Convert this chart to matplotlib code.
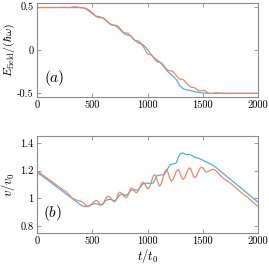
import matplotlib
matplotlib.use("Agg")
import matplotlib.pyplot as plt

# ---- data ----
t_E_blue = [0, 100, 200, 300, 400, 420, 450, 470, 500, 530, 560, 590, 620, 650, 680, 710, 740, 770,
            800, 830, 850, 880, 910, 940, 960, 990, 1020, 1050, 1080, 1110, 1140, 1170, 1200, 1230,
            1260, 1290, 1320, 1350, 1380, 1410, 1440, 1470, 1500, 1550, 1700, 2000]
E_blue = [0.49, 0.49, 0.49, 0.49, 0.488, 0.485, 0.47, 0.45, 0.42, 0.39, 0.385, 0.375, 0.345, 0.31,
          0.29, 0.28, 0.25, 0.21, 0.18, 0.17, 0.16, 0.12, 0.085, 0.07, 0.06, 0.02, -0.03, -0.08,
          -0.11, -0.14, -0.18, -0.23, -0.27, -0.30, -0.34, -0.41, -0.445, -0.46, -0.465, -0.475,
          -0.485, -0.49, -0.495, -0.5, -0.5, -0.5]

t_E_orange = [0, 200, 250, 290, 340, 380, 410, 440, 470, 500, 520, 540, 560, 580, 600, 620, 640,
              660, 680, 700, 720, 740, 760, 780, 795, 810, 825, 845, 865, 885, 900, 912, 930, 950,
              970, 990, 1005, 1020, 1035, 1055, 1075, 1095, 1110, 1125, 1145, 1165, 1185, 1200,
              1215, 1230, 1250, 1270, 1290, 1305, 1320, 1335, 1355, 1375, 1395, 1410, 1425, 1445,
              1465, 1490, 1505, 1520, 1540, 1560, 1590, 1620, 1650, 1700, 2000]
E_orange = [0.49, 0.49, 0.494, 0.488, 0.5, 0.492, 0.488, 0.482, 0.462, 0.43, 0.405, 0.385, 0.372,
            0.372, 0.37, 0.35, 0.325, 0.30, 0.287, 0.285, 0.283, 0.265, 0.235, 0.205, 0.195, 0.198,
            0.19, 0.165, 0.135, 0.11, 0.105, 0.108, 0.095, 0.06, 0.02, -0.025, -0.05, -0.052,
            -0.06, -0.09, -0.125, -0.14, -0.142, -0.148, -0.175, -0.21, -0.235, -0.24, -0.24,
            -0.25, -0.28, -0.31, -0.335, -0.338, -0.34, -0.355, -0.385, -0.41, -0.43, -0.43,
            -0.435, -0.455, -0.47, -0.47, -0.465, -0.47, -0.49, -0.5, -0.5, -0.492, -0.498,
            -0.5, -0.5]

t_v_blue = [0, 100, 200, 300, 350, 400, 430, 460, 490, 520, 550, 580, 600, 620, 650, 680, 700,
            720, 750, 780, 800, 820, 850, 880, 910, 930, 960, 990, 1020, 1050, 1070, 1090, 1120,
            1150, 1180, 1200, 1230, 1260, 1280, 1300, 1320, 1350, 1380, 1400, 1430, 1460, 1500,
            1550, 1600, 1700, 1800, 1900, 2000]
v_blue = [1.189, 1.13, 1.07, 1.01, 0.98, 0.95, 0.94, 0.942, 0.955, 0.963, 0.958, 0.95, 0.96,
          0.985, 0.992, 0.99, 0.98, 0.995, 1.025, 1.03, 1.02, 1.03, 1.058, 1.063, 1.058, 1.075,
          1.105, 1.11, 1.107, 1.11, 1.14, 1.165, 1.168, 1.17, 1.21, 1.24, 1.248, 1.255, 1.30,
          1.323, 1.328, 1.315, 1.316, 1.31, 1.295, 1.29, 1.275, 1.255, 1.235, 1.169, 1.104,
          1.038, 0.972]

t_v_orange = [0, 50, 100, 150, 200, 230, 260, 290, 320, 350, 380, 400, 415, 431, 446, 462, 481,
              500, 518, 537, 548, 560, 571, 582, 597, 612, 628, 643, 658, 673, 688, 703, 714, 726,
              737, 748, 763, 778, 794, 809, 820, 832, 843, 854, 865, 877, 888, 899, 914, 929, 944,
              959, 970, 982, 993, 1005, 1020, 1035, 1050, 1065, 1076, 1088, 1099, 1110, 1125, 1140,
              1155, 1170, 1181, 1193, 1204, 1216, 1231, 1246, 1261, 1276, 1287, 1298, 1310, 1321,
              1336, 1351, 1367, 1382, 1393, 1404, 1416, 1427, 1442, 1457, 1472, 1487, 1498, 1510,
              1521, 1533, 1548, 1563, 1578, 1593, 1610, 1630, 1650, 1700, 1750, 1800, 1850, 1900,
              1950, 2000]
v_orange = [1.198, 1.17, 1.14, 1.112, 1.082, 1.065, 1.05, 1.025, 1.0, 0.99, 0.982, 0.978, 0.972,
            0.959, 0.946, 0.94, 0.947, 0.962, 0.978, 0.985, 0.980, 0.968, 0.957, 0.952, 0.961,
            0.984, 1.007, 1.016, 1.010, 0.995, 0.981, 0.975, 0.985, 1.01, 1.035, 1.045, 1.039,
            1.024, 1.010, 1.004, 1.015, 1.04, 1.065, 1.076, 1.071, 1.058, 1.045, 1.04, 1.051,
            1.078, 1.106, 1.117, 1.110, 1.093, 1.076, 1.069, 1.084, 1.120, 1.157, 1.172, 1.160,
            1.13, 1.100, 1.088, 1.106, 1.148, 1.190, 1.208, 1.196, 1.166, 1.136, 1.124, 1.136,
            1.166, 1.196, 1.208, 1.197, 1.172, 1.147, 1.136, 1.148, 1.178, 1.208, 1.22, 1.209,
            1.184, 1.159, 1.148, 1.159, 1.186, 1.214, 1.225, 1.220, 1.207, 1.195, 1.19, 1.193,
            1.20, 1.207, 1.21, 1.205, 1.19, 1.17, 1.135, 1.11, 1.075, 1.04, 1.01, 0.975, 0.94]

x_ticks = [0, 500, 1000, 1500, 2000]
x_ticklabels = ["0", "500", "1000", "1500", "2000"]
yE_ticks = [-0.5, 0, 0.5]
yE_ticklabels = ["-0.5", "0", "0.5"]
yv_ticks = [0.8, 1.0, 1.2, 1.4]
yv_ticklabels = ["0.8", "1", "1.2", "1.4"]

BLUE = "#4DAAE4"
ORANGE = "#F2825E"
FRAME = "#8c8c8c"

plt.rcParams["mathtext.fontset"] = "cm"
plt.rcParams["font.family"] = ["cmr10", "DejaVu Serif"]
plt.rcParams["axes.unicode_minus"] = False

fig = plt.figure(figsize=(2.69, 2.66), dpi=100)
axA = fig.add_axes([0.1375, 0.635, 0.822, 0.354])
axB = fig.add_axes([0.1375, 0.124, 0.822, 0.365])

for ax in (axA, axB):
    for s in ax.spines.values():
        s.set_color(FRAME)
        s.set_linewidth(0.8)
    ax.tick_params(direction="in", top=True, right=True, length=3, width=0.6,
                   color=FRAME, labelsize=7.5, pad=2.5)
    ax.set_xlim(0, 2000)
    ax.set_xticks(x_ticks)
    ax.set_xticklabels(x_ticklabels)

axA.plot(t_E_blue, E_blue, color=BLUE, lw=0.85)
axA.plot(t_E_orange, E_orange, color=ORANGE, lw=0.85)
axA.set_ylim(-0.543, 0.543)
axA.set_yticks(yE_ticks)
axA.set_yticklabels(yE_ticklabels)
axA.set_ylabel(r"$E_{\rm field}/(\hbar\omega)$", fontsize=8.5, labelpad=0)
axA.text(60, -0.32, r"$(a)$", fontsize=11, va="center", ha="left")

axB.plot(t_v_blue, v_blue, color=BLUE, lw=0.85)
axB.plot(t_v_orange, v_orange, color=ORANGE, lw=0.85)
axB.set_ylim(0.75, 1.45)
axB.set_yticks(yv_ticks)
axB.set_yticklabels(yv_ticklabels)
axB.set_ylabel(r"$v/v_0$", fontsize=9, labelpad=2)
axB.set_xlabel(r"$t/t_0$", fontsize=9, labelpad=1)
axB.text(55, 0.895, r"$(b)$", fontsize=11, va="center", ha="left")

fig.savefig("out.png", dpi=100)
